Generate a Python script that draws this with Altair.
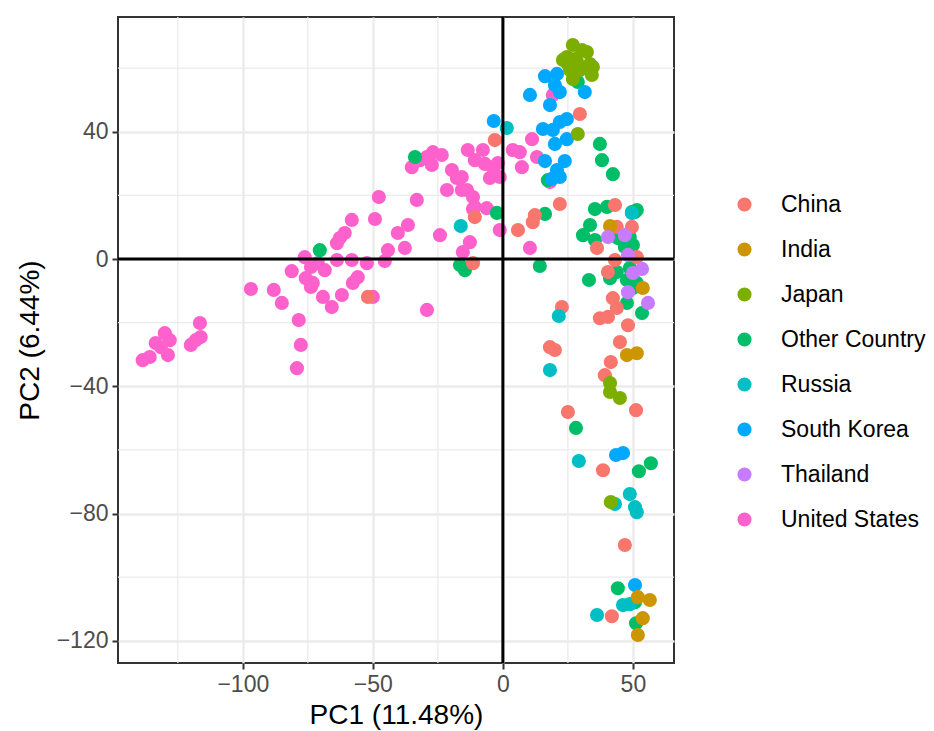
import altair as alt
import pandas as pd

countries = ["China", "India", "Japan", "Other Country", "Russia",
             "South Korea", "Thailand", "United States"]
palette = ["#F8766D", "#CD9600", "#7CAE00", "#00BE67", "#00BFC4",
           "#00A9FF", "#C77CFF", "#FF61CC"]

us_x = [-138.5, -135.8, -133.5, -130.0, -128.1, -128.8, -131.5, -120.0, -116.5, -116.2,
        -118.1, -96.9, -88.1, -85.0, -78.5, -77.7, -79.2, -81.2, -76.2, -75.8,
        -73.8, -73.8, -73.1, -69.2, -65.8, -61.9, -57.7, -55.8, -63.8, -58.1,
        -52.3, -50.0, -45.4, -44.2, -37.7, -40.4, -36.5, -49.2, -58.1, -62.7,
        -63.8, -60.8, -47.7, -33.1, -29.2, -24.2, -35.0, -31.9, -26.9, -23.5,
        -29.2, -27.3, -19.6, -17.7, -21.5, -15.8, -11.5, -10.8, -6.2, -13.5,
        -7.7, -10.8, -5.0, -1.9, -1.2, -1.2, -15.4, -12.7, -6.9, -3.8,
        -15.8, -13.8, -11.5, 3.8, 6.5, 7.3, 11.2, 13.1, 19.2, 18.1,
        10.4, -71.2, -68.5]
us_y = [-31.8, -30.8, -26.4, -23.3, -25.5, -30.2, -27.7, -27.0, -20.1, -24.5,
        -25.5, -9.4, -9.7, -13.8, -19.2, -27.0, -34.3, -3.8, 0.6, -6.0,
        -8.8, -2.5, -7.5, -11.9, -15.1, -11.3, -7.5, -5.7, -0.3, -0.3,
        -1.3, -11.9, -0.6, 2.8, 3.5, 8.2, 10.7, 12.6, 12.3, 6.6,
        5.0, 8.2, 19.5, 18.6, -16.0, 7.5, 28.9, 31.1, 33.6, 32.7,
        32.1, 29.6, 28.0, 25.5, 21.7, 21.7, 19.5, 16.4, 16.0, 34.3,
        34.3, 31.1, 25.5, 30.2, 25.8, 9.1, 2.2, 5.3, 29.9, 28.9,
        25.8, 21.7, 15.7, 34.3, 33.6, 28.9, 37.7, 32.1, 51.6, 24.2,
        3.5, -1.3, -3.5]

oc_x = [-70.4, -33.8, -16.5, -14.6, -2.3, 17.3, 37.3, 38.1, 42.3, 35.4,
        40.0, 49.6, 51.5, 16.2, 28.8, 14.2, 33.5, 30.8, 35.4, 44.2,
        48.8, 50.8, 46.9, 50.0, 33.1, 41.2, 43.8, 48.8, 47.7, 50.0,
        47.7, 53.5, 51.5, 28.1, 52.3, 56.9, 44.2, 50.8, 51.2]
oc_y = [2.8, 32.1, -1.9, -3.5, 14.5, 24.8, 36.2, 31.1, 26.7, 15.7,
        16.4, 14.8, 15.4, 14.2, 55.7, -2.2, 10.7, 7.5, 6.0, 6.6,
        6.9, 14.8, 3.8, 4.4, -6.6, -6.0, -4.1, -2.8, -6.6, -9.1,
        -13.8, -17.0, -7.5, -53.1, -66.7, -64.2, -103.5, -107.9, -114.5]

cn_x = [-11.5, -51.9, -10.8, -3.1, 29.6, 21.9, 43.1, 12.3, 11.5, 5.8,
        49.6, 36.2, 43.1, 40.4, 42.3, 37.3, 40.4, 43.8, 48.1, 45.0,
        22.7, 18.1, 20.0, 41.5, 39.2, 51.5, 43.8, 25.0, 51.2, 38.5,
        46.9, 41.9]
cn_y = [-1.3, -11.9, 13.2, 37.4, 45.6, 17.3, 17.0, 13.8, 11.6, 9.1,
        10.1, 3.5, -0.3, -4.1, -12.3, -18.6, -18.2, -15.4, -20.8, -26.1,
        -15.1, -27.7, -28.6, -32.4, -36.5, 0.6, 10.1, -48.1, -47.5, -66.4,
        -89.9, -112.3]

ru_x = [-16.2, 1.5, 21.5, 18.1, 49.6, 29.2, 48.8, 50.8, 51.5, 43.1,
        36.2, 46.2, 48.8]
ru_y = [10.4, 41.2, -17.9, -34.9, 14.5, -63.5, -73.9, -78.0, -79.6, -77.0,
        -111.9, -108.8, -108.5]

kr_x = [-3.5, 16.2, 20.8, 10.4, 20.0, 21.9, 18.1, 31.5, 15.4, 19.2,
        21.9, 24.6, 20.0, 24.6, 16.2, 23.8, 20.8, 18.8, 21.9, 43.5,
        46.2, 50.8]
kr_y = [43.4, 57.5, 58.2, 51.6, 54.7, 52.5, 48.4, 52.5, 40.9, 40.6,
        43.1, 44.0, 36.2, 37.7, 30.8, 30.8, 28.0, 25.2, 25.8, -61.6,
        -61.0, -102.5]

in_x = [41.2, 53.8, 47.7, 51.5, 51.9, 56.5, 53.8, 51.9]
in_y = [10.4, -9.1, -30.2, -29.6, -106.3, -107.2, -112.9, -118.2]

th_x = [40.4, 46.9, 48.1, 53.5, 50.0, 48.1, 55.8]
th_y = [6.9, 7.5, 1.3, -3.1, -4.4, -10.4, -13.8]

jp_x = [26.9, 30.4, 32.3, 24.6, 23.1, 27.7, 33.5, 34.6, 25.8, 29.6,
        34.2, 26.9, 28.5, 25.0, 28.8, 41.2, 41.2, 45.0, 41.5]
jp_y = [67.3, 65.7, 65.1, 63.5, 62.6, 62.9, 61.3, 60.4, 59.4, 59.4,
        57.9, 56.6, 62.0, 61.3, 39.3, -39.0, -41.8, -43.7, -76.4]

x_major = [-100, -50, 0, 50]
x_minor = [-125, -75, -25, 25]
y_major = [-120, -80, -40, 0, 40]
y_minor = [-100, -60, -20, 20, 60]
x_domain = [-148, 65.8]
y_domain = [-127, 76.1]

groups = [("United States", us_x, us_y), ("Other Country", oc_x, oc_y),
          ("China", cn_x, cn_y), ("Russia", ru_x, ru_y),
          ("South Korea", kr_x, kr_y), ("India", in_x, in_y),
          ("Thailand", th_x, th_y), ("Japan", jp_x, jp_y)]
rows = []
for name, xs, ys in groups:
    for a, b in zip(xs, ys):
        rows.append({"PC1": a, "PC2": b, "country": name})
df = pd.DataFrame(rows)

FONT = "Liberation Sans"
xscale = alt.Scale(domain=x_domain, nice=False, zero=False)
yscale = alt.Scale(domain=y_domain, nice=False, zero=False)

xminor = alt.Chart(pd.DataFrame({"v": x_minor})).mark_rule(
    color="#EBEBEB", strokeWidth=1.3).encode(x=alt.X("v:Q", scale=xscale))
yminor = alt.Chart(pd.DataFrame({"v": y_minor})).mark_rule(
    color="#EBEBEB", strokeWidth=1.3).encode(y=alt.Y("v:Q", scale=yscale))

points = alt.Chart(df).mark_circle(size=200, opacity=1).encode(
    x=alt.X("PC1:Q", scale=xscale, title="PC1 (11.48%)",
            axis=alt.Axis(values=x_major, grid=True)),
    y=alt.Y("PC2:Q", scale=yscale, title="PC2 (6.44%)",
            axis=alt.Axis(values=y_major, grid=True)),
    color=alt.Color("country:N", title=None,
                    scale=alt.Scale(domain=countries, range=palette),
                    legend=alt.Legend(orient="none", legendX=615, legendY=176,
                                      symbolType="circle", symbolSize=200,
                                      labelFontSize=23, labelFont=FONT,
                                      labelColor="#000000", rowPadding=21,
                                      labelOffset=25, padding=0)),
)

zx = alt.Chart(pd.DataFrame({"v": [0]})).mark_rule(
    color="black", strokeWidth=3).encode(x=alt.X("v:Q", scale=xscale))
zy = alt.Chart(pd.DataFrame({"v": [0]})).mark_rule(
    color="black", strokeWidth=3).encode(y=alt.Y("v:Q", scale=yscale))

chart = alt.layer(xminor, yminor, points, zx, zy).properties(
    width=556, height=646,
    autosize=alt.AutoSizeParams(type="none"),
    padding={"left": 118, "top": 17, "right": 260, "bottom": 68},
    background="white",
).configure_view(
    stroke="#333333", strokeWidth=2
).configure_axis(
    domain=False, gridColor="#EBEBEB", gridWidth=2.4,
    tickColor="#333333", tickWidth=2, tickSize=6,
    labelFont=FONT, labelFontSize=23, labelColor="#4D4D4D", labelPadding=4,
    titleFont=FONT, titleFontSize=28, titleColor="#000000", titleFontWeight="normal",
).configure_axisX(titlePadding=5).configure_axisY(titlePadding=12)

chart.save("out.html", embed_options={"renderer": "svg", "actions": False})
